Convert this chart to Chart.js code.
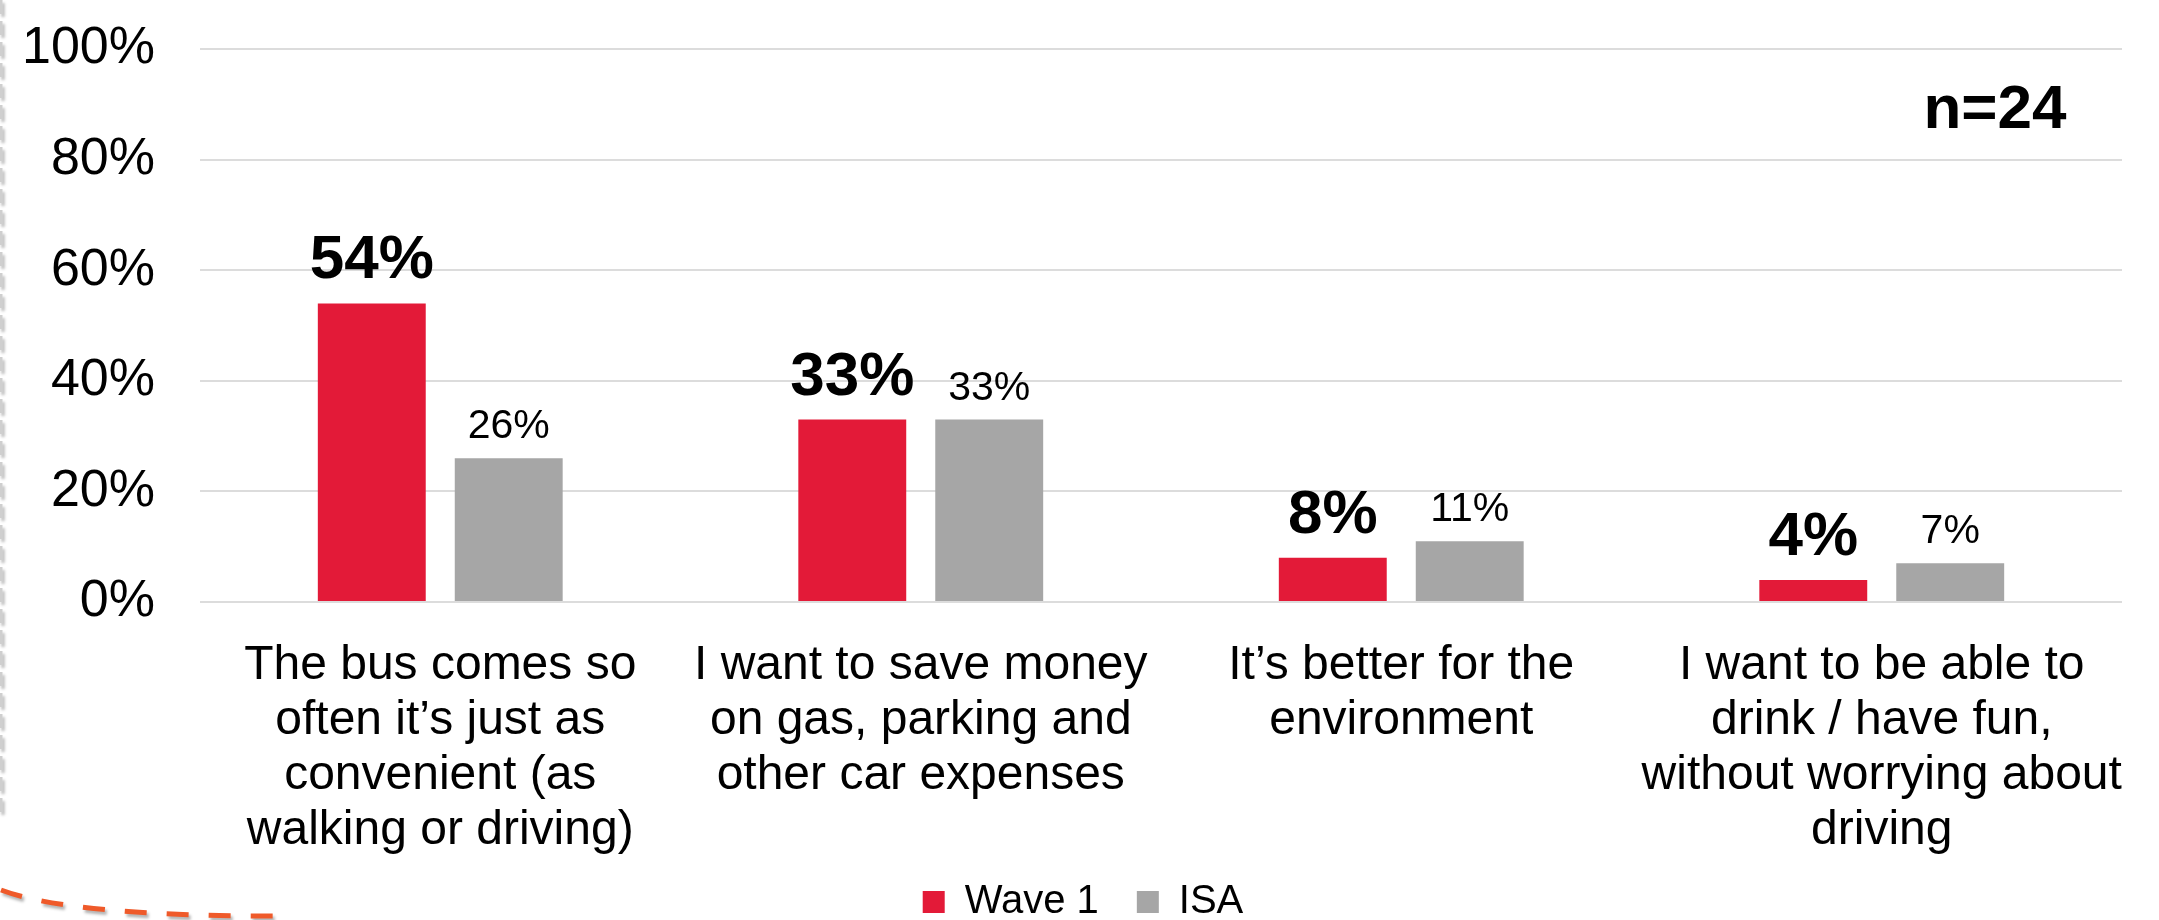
<!DOCTYPE html>
<html>
<head>
<meta charset="utf-8">
<title>Reasons for riding the bus</title>
<script src="https://cdn.jsdelivr.net/npm/chart.js@4.4.0/dist/chart.umd.min.js"></script>
<style>
  html, body { margin: 0; padding: 0; background: #fff; overflow: hidden; }
  #wrap { width: 2159px; height: 920px; }
</style>
</head>
<body>
<div id="wrap"><canvas id="reasonChart" width="2159" height="920"></canvas></div>
<script>
// answers, one entry per group of bars (lines broken as on the slide)
const categories = [
  ['The bus comes so', 'often it\u2019s just as', 'convenient (as', 'walking or driving)'],
  ['I want to save money', 'on gas, parking and', 'other car expenses'],
  ['It\u2019s better for the', 'environment'],
  ['I want to be able to', 'drink / have fun,', 'without worrying about', 'driving']
];
const seriesNames = ['Wave 1', 'ISA'];
const wave1Values = [54, 33, 8, 4];
const isaValues = [26, 33, 11, 7];
const yTickValues = [0, 20, 40, 60, 80, 100];
const sampleNote = 'n=24';

const FONT = "'Liberation Sans', Arial, Helvetica, sans-serif";
Chart.defaults.font.family = FONT;
Chart.defaults.color = '#000';

// per-series look of the numbers printed above the bars
const labelStyles = [
  { font: 'bold 62px ' + FONT, gap: 25 },
  { font: '41px ' + FONT, gap: 20 }
];

const valueLabels = {
  id: 'valueLabels',
  afterDatasetsDraw(chart) {
    const ctx = chart.ctx;
    ctx.save();
    ctx.fillStyle = '#000';
    ctx.textAlign = 'center';
    ctx.textBaseline = 'alphabetic';
    chart.data.datasets.forEach((ds, i) => {
      const meta = chart.getDatasetMeta(i);
      ctx.font = labelStyles[i].font;
      meta.data.forEach((bar, j) => {
        ctx.fillText(ds.data[j] + '%', bar.x, bar.y - labelStyles[i].gap);
      });
    });
    ctx.restore();
  }
};

const sampleSize = {
  id: 'sampleSize',
  afterDraw(chart) {
    const { ctx, chartArea } = chart;
    ctx.save();
    ctx.fillStyle = '#000';
    ctx.font = 'bold 62px ' + FONT;
    ctx.textAlign = 'center';
    ctx.textBaseline = 'alphabetic';
    ctx.fillText(sampleNote, chartArea.right - 127, chartArea.top + 79);
    ctx.restore();
  }
};

// dashed slide frame peeking in at the left and bottom-left
const pageEdge = {
  id: 'pageEdge',
  afterDraw(chart) {
    const ctx = chart.ctx;
    ctx.save();
    ctx.shadowColor = 'rgba(0,0,0,0.3)';
    ctx.shadowBlur = 3;
    ctx.shadowOffsetX = 2;
    ctx.shadowOffsetY = 3;

    ctx.setLineDash([14, 7]);
    ctx.strokeStyle = '#cfcfcf';
    ctx.lineWidth = 3;
    ctx.beginPath();
    ctx.moveTo(1, 0);
    ctx.lineTo(1, 818);
    ctx.stroke();

    ctx.setLineDash([22, 20]);
    ctx.strokeStyle = '#ef5a2a';
    ctx.lineWidth = 5;
    ctx.beginPath();
    ctx.moveTo(1, 890);
    ctx.quadraticCurveTo(70, 916, 276, 916);
    ctx.stroke();
    ctx.restore();
  }
};

// tick labels may spill past their axis box (long answers, "100%")
const noLabelClip = scale => { scale._computeLabelArea = () => undefined; };

new Chart(document.getElementById('reasonChart'), {
  type: 'bar',
  data: {
    labels: categories,
    datasets: [
      {
        label: seriesNames[0],
        data: wave1Values,
        backgroundColor: '#e31a38',
        borderWidth: 0,
        categoryPercentage: 0.57,
        barPercentage: 0.788
      },
      {
        label: seriesNames[1],
        data: isaValues,
        backgroundColor: '#a6a6a6',
        borderWidth: 0,
        categoryPercentage: 0.57,
        barPercentage: 0.788
      }
    ]
  },
  options: {
    responsive: false,
    animation: false,
    layout: {
      padding: { left: 44, right: 37, top: 49, bottom: -12 }
    },
    plugins: {
      legend: {
        position: 'bottom',
        labels: {
          boxWidth: 22,
          boxHeight: 22,
          padding: 38,
          color: '#000',
          font: { size: 40 }
        }
      },
      tooltip: { enabled: false }
    },
    scales: {
      x: {
        grid: { display: false },
        border: { display: false },
        afterFit(scale) {
          scale.height = 242;
          noLabelClip(scale);
        },
        ticks: {
          color: '#000',
          padding: 28,
          maxRotation: 0,
          autoSkip: false,
          font: { size: 48, lineHeight: 1.15 }
        }
      },
      y: {
        min: 0,
        max: 100,
        afterBuildTicks(scale) {
          scale.ticks = yTickValues.map(v => ({ value: v }));
        },
        afterFit(scale) {
          scale.width = 156;
          // let the layout padding alone decide the top and bottom of the plot
          scale.paddingTop = 0;
          scale.paddingBottom = 0;
          noLabelClip(scale);
        },
        grid: {
          color: '#dcdcdc',
          lineWidth: 2,
          drawTicks: false
        },
        border: { display: false },
        ticks: {
          color: '#000',
          padding: 45,
          font: { size: 52 },
          callback: v => v + '%'
        }
      }
    }
  },
  plugins: [valueLabels, sampleSize, pageEdge]
});
</script>
</body>
</html>
